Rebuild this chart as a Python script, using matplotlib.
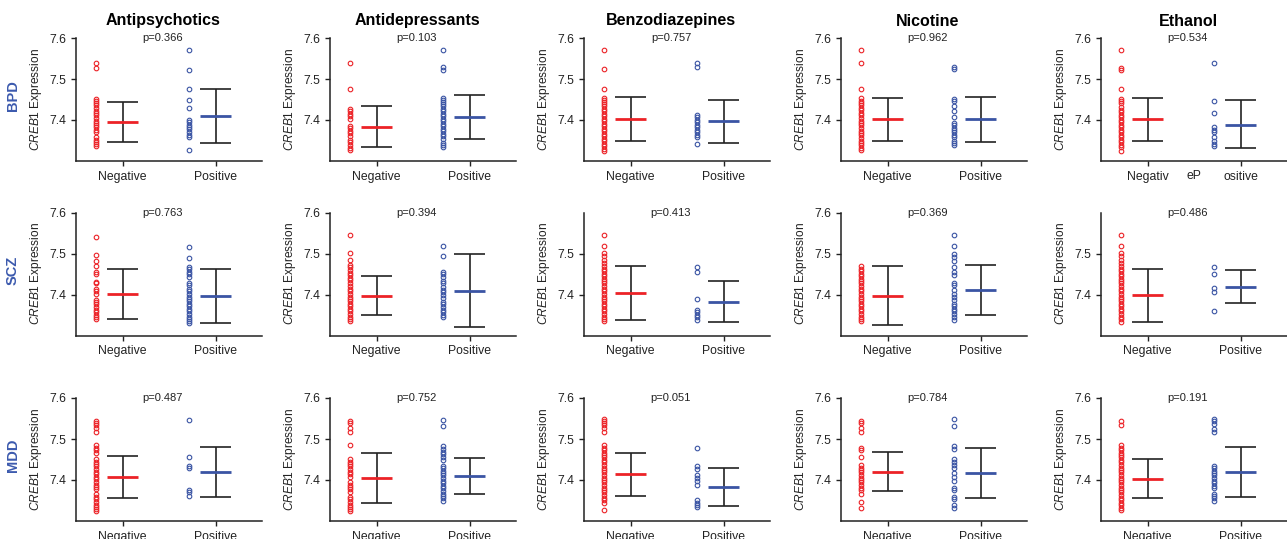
import matplotlib
matplotlib.use('Agg')
import matplotlib.pyplot as plt
import matplotlib.transforms as mtransforms

plt.rcParams['font.family'] = ['Liberation Sans', 'DejaVu Sans']
plt.rcParams['mathtext.fontset'] = 'custom'
plt.rcParams['mathtext.it'] = 'Liberation Sans:italic'
plt.rcParams['mathtext.rm'] = 'Liberation Sans'

# --- Dati ---
drugs = ['Antipsychotics', 'Antidepressants', 'Benzodiazepines', 'Nicotine', 'Ethanol']
groups = ['BPD', 'SCZ', 'MDD']
status = ['Negative', 'Positive']
p_values = [['0.366', '0.103', '0.757', '0.962', '0.534'],
            ['0.763', '0.394', '0.413', '0.369', '0.486'],
            ['0.487', '0.752', '0.051', '0.784', '0.191']]

# BPD
bpd_apsy_neg = [7.540, 7.528, 7.452, 7.447, 7.441, 7.436, 7.429, 7.423, 7.417, 7.411, 7.405, 7.398,
                7.393, 7.389, 7.382, 7.376, 7.371, 7.358, 7.352, 7.346, 7.341, 7.336]
bpd_apsy_pos = [7.570, 7.523, 7.476, 7.450, 7.429, 7.399, 7.394, 7.389, 7.383, 7.378, 7.370, 7.364,
                7.359, 7.327]
bpd_adep_neg = [7.540, 7.476, 7.427, 7.421, 7.415, 7.409, 7.403, 7.385, 7.380, 7.374, 7.368, 7.360,
                7.352, 7.346, 7.340, 7.332, 7.326]
bpd_adep_pos = [7.571, 7.529, 7.523, 7.454, 7.450, 7.444, 7.439, 7.433, 7.428, 7.421, 7.415, 7.409,
                7.403, 7.397, 7.391, 7.385, 7.379, 7.372, 7.366, 7.360, 7.354, 7.344, 7.338, 7.334]
bpd_benz_neg = [7.571, 7.524, 7.476, 7.454, 7.450, 7.444, 7.439, 7.433, 7.428, 7.421, 7.415, 7.409,
                7.403, 7.397, 7.391, 7.385, 7.379, 7.372, 7.366, 7.360, 7.354, 7.348, 7.341, 7.336,
                7.330, 7.325]
bpd_benz_pos = [7.540, 7.530, 7.411, 7.407, 7.401, 7.395, 7.389, 7.382, 7.376, 7.371, 7.364, 7.358,
                7.341]
bpd_nico_neg = [7.571, 7.540, 7.476, 7.454, 7.447, 7.441, 7.436, 7.429, 7.424, 7.417, 7.411, 7.405,
                7.398, 7.393, 7.387, 7.380, 7.374, 7.368, 7.363, 7.356, 7.350, 7.344, 7.338, 7.332,
                7.326]
bpd_nico_pos = [7.530, 7.524, 7.451, 7.446, 7.433, 7.421, 7.407, 7.393, 7.387, 7.380, 7.376, 7.370,
                7.364, 7.358, 7.350, 7.344, 7.338]
bpd_etoh_neg = [7.570, 7.528, 7.522, 7.476, 7.452, 7.447, 7.441, 7.431, 7.425, 7.420, 7.413, 7.407,
                7.401, 7.395, 7.389, 7.382, 7.376, 7.371, 7.364, 7.358, 7.352, 7.346, 7.340, 7.333,
                7.325]
bpd_etoh_pos = [7.539, 7.447, 7.416, 7.382, 7.376, 7.371, 7.358, 7.348, 7.341, 7.336]

# SCZ
scz_apsy_neg = [7.541, 7.496, 7.482, 7.469, 7.455, 7.449, 7.431, 7.427, 7.414, 7.409, 7.402, 7.387,
                7.382, 7.376, 7.369, 7.363, 7.357, 7.351, 7.345, 7.341]
scz_apsy_pos = [7.517, 7.490, 7.467, 7.461, 7.455, 7.449, 7.443, 7.427, 7.423, 7.414, 7.409, 7.402,
                7.395, 7.390, 7.384, 7.377, 7.371, 7.365, 7.359, 7.353, 7.346, 7.341, 7.335, 7.330]
scz_adep_neg = [7.545, 7.502, 7.485, 7.472, 7.466, 7.459, 7.453, 7.447, 7.441, 7.435, 7.427, 7.420,
                7.414, 7.409, 7.402, 7.395, 7.390, 7.384, 7.377, 7.371, 7.365, 7.359, 7.353, 7.346,
                7.341, 7.335]
scz_adep_pos = [7.519, 7.494, 7.455, 7.449, 7.443, 7.432, 7.427, 7.418, 7.412, 7.406, 7.398, 7.391,
                7.382, 7.376, 7.369, 7.363, 7.357, 7.350, 7.345]
scz_benz_neg = [7.545, 7.518, 7.502, 7.494, 7.485, 7.477, 7.469, 7.463, 7.458, 7.451, 7.445, 7.439,
                7.433, 7.427, 7.420, 7.414, 7.409, 7.402, 7.395, 7.390, 7.384, 7.377, 7.371, 7.365,
                7.359, 7.353, 7.346, 7.341, 7.335]
scz_benz_pos = [7.467, 7.454, 7.388, 7.363, 7.357, 7.350, 7.345, 7.339]
scz_nico_neg = [7.469, 7.463, 7.458, 7.451, 7.445, 7.439, 7.433, 7.427, 7.420, 7.414, 7.409, 7.402,
                7.395, 7.390, 7.384, 7.377, 7.371, 7.365, 7.359, 7.353, 7.346, 7.341, 7.335]
scz_nico_pos = [7.544, 7.518, 7.500, 7.492, 7.482, 7.467, 7.455, 7.447, 7.428, 7.422, 7.412, 7.402,
                7.394, 7.386, 7.377, 7.371, 7.365, 7.359, 7.353, 7.345, 7.338]
scz_etoh_neg = [7.544, 7.518, 7.502, 7.494, 7.485, 7.477, 7.469, 7.463, 7.458, 7.451, 7.445, 7.439,
                7.433, 7.427, 7.420, 7.414, 7.409, 7.402, 7.395, 7.390, 7.384, 7.377, 7.371, 7.365,
                7.359, 7.353, 7.346, 7.341, 7.332]
scz_etoh_pos = [7.466, 7.449, 7.417, 7.405, 7.359]

# MDD
mdd_apsy_neg = [7.544, 7.539, 7.533, 7.528, 7.518, 7.486, 7.479, 7.473, 7.465, 7.451, 7.445, 7.438,
                7.433, 7.427, 7.420, 7.414, 7.408, 7.402, 7.396, 7.389, 7.384, 7.378, 7.365, 7.359,
                7.353, 7.347, 7.340, 7.335, 7.329, 7.324]
mdd_apsy_pos = [7.547, 7.455, 7.435, 7.429, 7.376, 7.370, 7.362]
mdd_adep_neg = [7.544, 7.539, 7.528, 7.518, 7.486, 7.451, 7.445, 7.438, 7.433, 7.427, 7.420, 7.414,
                7.408, 7.396, 7.389, 7.384, 7.378, 7.371, 7.359, 7.353, 7.347, 7.340, 7.335, 7.329,
                7.324]
mdd_adep_pos = [7.547, 7.531, 7.482, 7.476, 7.469, 7.463, 7.455, 7.449, 7.435, 7.429, 7.422, 7.416,
                7.411, 7.404, 7.398, 7.392, 7.386, 7.380, 7.373, 7.367, 7.362, 7.355, 7.349]
mdd_benz_neg = [7.549, 7.544, 7.539, 7.533, 7.528, 7.518, 7.486, 7.479, 7.473, 7.467, 7.461, 7.455,
                7.449, 7.443, 7.437, 7.430, 7.424, 7.419, 7.412, 7.406, 7.400, 7.394, 7.388, 7.381,
                7.376, 7.370, 7.363, 7.357, 7.351, 7.345, 7.327]
mdd_benz_pos = [7.479, 7.433, 7.427, 7.411, 7.404, 7.398, 7.388, 7.351, 7.345, 7.339, 7.333]
mdd_nico_neg = [7.544, 7.539, 7.528, 7.518, 7.479, 7.473, 7.455, 7.437, 7.430, 7.424, 7.419, 7.412,
                7.406, 7.400, 7.394, 7.388, 7.381, 7.376, 7.365, 7.347, 7.332]
mdd_nico_pos = [7.549, 7.531, 7.484, 7.476, 7.451, 7.443, 7.437, 7.429, 7.416, 7.408, 7.398, 7.381,
                7.376, 7.359, 7.353, 7.339, 7.332]
mdd_etoh_neg = [7.544, 7.533, 7.486, 7.479, 7.473, 7.467, 7.461, 7.455, 7.449, 7.443, 7.437, 7.430,
                7.424, 7.419, 7.412, 7.406, 7.400, 7.394, 7.388, 7.381, 7.376, 7.370, 7.363, 7.357,
                7.351, 7.345, 7.339, 7.332, 7.327]
mdd_etoh_pos = [7.549, 7.543, 7.536, 7.525, 7.518, 7.435, 7.429, 7.422, 7.416, 7.411, 7.404, 7.398,
                7.392, 7.386, 7.380, 7.367, 7.362, 7.355, 7.349]

# media, limite inferiore, limite superiore (per farmaco)
bpd_neg_stats = [(7.395, 7.346, 7.443), (7.384, 7.333, 7.435), (7.402, 7.348, 7.455),
                 (7.402, 7.348, 7.454), (7.402, 7.348, 7.453)]
bpd_pos_stats = [(7.410, 7.345, 7.475), (7.408, 7.354, 7.462), (7.397, 7.343, 7.450),
                 (7.402, 7.346, 7.456), (7.389, 7.331, 7.450)]
scz_neg_stats = [(7.402, 7.340, 7.461), (7.396, 7.349, 7.445), (7.403, 7.337, 7.469),
                 (7.396, 7.326, 7.469), (7.399, 7.333, 7.463)]
scz_pos_stats = [(7.396, 7.331, 7.462), (7.409, 7.320, 7.498), (7.382, 7.334, 7.433),
                 (7.410, 7.351, 7.471), (7.419, 7.379, 7.459)]
mdd_neg_stats = [(7.407, 7.355, 7.458), (7.406, 7.344, 7.466), (7.414, 7.361, 7.466),
                 (7.420, 7.373, 7.468), (7.402, 7.355, 7.451)]
mdd_pos_stats = [(7.420, 7.359, 7.481), (7.410, 7.365, 7.454), (7.384, 7.337, 7.429),
                 (7.416, 7.355, 7.478), (7.420, 7.358, 7.481)]

neg_points = [[bpd_apsy_neg, bpd_adep_neg, bpd_benz_neg, bpd_nico_neg, bpd_etoh_neg],
              [scz_apsy_neg, scz_adep_neg, scz_benz_neg, scz_nico_neg, scz_etoh_neg],
              [mdd_apsy_neg, mdd_adep_neg, mdd_benz_neg, mdd_nico_neg, mdd_etoh_neg]]
pos_points = [[bpd_apsy_pos, bpd_adep_pos, bpd_benz_pos, bpd_nico_pos, bpd_etoh_pos],
              [scz_apsy_pos, scz_adep_pos, scz_benz_pos, scz_nico_pos, scz_etoh_pos],
              [mdd_apsy_pos, mdd_adep_pos, mdd_benz_pos, mdd_nico_pos, mdd_etoh_pos]]
neg_stats = [bpd_neg_stats, scz_neg_stats, mdd_neg_stats]
pos_stats = [bpd_pos_stats, scz_pos_stats, mdd_pos_stats]

# --- Stile ---
RED = '#EC2227'
BLUE = '#3A54A4'
LABEL_BLUE = '#3C5AAE'
BAR = '#222222'
W, H = 1287, 539
COL_LEFT = [76, 330, 584, 841, 1101]
ROW_TOP = [38, 212.5, 398]
AX_W, AX_H = 186, 123
NO_TOP_TICK = [(1, 2), (1, 4)]
PT_OFF = -0.28
HALF = 0.17

fig = plt.figure(figsize=(W / 100, H / 100), dpi=100)

for r, grp in enumerate(groups):
    for c, drug in enumerate(drugs):
        ax = fig.add_axes([COL_LEFT[c] / W, 1 - (ROW_TOP[r] + AX_H) / H, AX_W / W, AX_H / H])
        for k, (pts, st, col) in enumerate([(neg_points[r][c], neg_stats[r][c], RED),
                                             (pos_points[r][c], pos_stats[r][c], BLUE)]):
            x = k + 1
            ax.plot([x + PT_OFF] * len(pts), pts, 'o', mfc='none', mec=col, ms=3.3, mew=0.8,
                    clip_on=False)
            mean, lo, hi = st
            ax.vlines(x, lo, hi, color=BAR, lw=1.2)
            ax.hlines([lo, hi], x - HALF, x + HALF, color=BAR, lw=1.2)
            ax.hlines(mean, x - HALF, x + HALF, color=col, lw=2.0, zorder=3)

        ax.set_xlim(0.5, 2.5)
        ax.set_ylim(7.3, 7.6)
        ax.set_xticks([1, 2])
        if (r, c) == (0, 4):
            ax.set_xticklabels(['Negativ', 'ositive'])
            tr = mtransforms.blended_transform_factory(ax.transData, ax.transAxes)
            ax.text(1.5, -15 / AX_H, 'eP', transform=tr, ha='center', va='center',
                    fontsize=8.8, color='#222222')
        else:
            ax.set_xticklabels(status)
        yt = [7.4, 7.5] if (r, c) in NO_TOP_TICK else [7.4, 7.5, 7.6]
        ax.set_yticks(yt)
        ax.set_yticklabels([f'{v:.1f}' for v in yt])
        for s in ['top', 'right']:
            ax.spines[s].set_visible(False)
        for s in ['left', 'bottom']:
            ax.spines[s].set_linewidth(1.1)
            ax.spines[s].set_color('#222222')
        ax.tick_params(direction='out', length=3.6, width=1.0, pad=3.5, labelsize=8.8,
                       colors='#222222')
        ax.set_ylabel(r'$\mathit{CREB1}$ Expression', fontsize=8.6, color='#222222')
        ax.yaxis.set_label_coords(-32 / AX_W, 0.5)

        tr = mtransforms.blended_transform_factory(ax.transData, ax.transAxes)
        ax.text(1.435, 1.0, f'p={p_values[r][c]}', transform=tr, ha='center', va='center',
                fontsize=8, color='#222222')
        if r == 0:
            ax.text(1.435, 1 + 17 / AX_H, drug, transform=tr, ha='center', va='center',
                    fontsize=11.5, fontweight='bold')
        if c == 0:
            fig.text(13 / W, 1 - (ROW_TOP[r] + AX_H / 2 - 4) / H, grp, rotation=90,
                     ha='center', va='center', fontsize=10.5, fontweight='bold', color=LABEL_BLUE)

fig.savefig('out.png', dpi=100)
